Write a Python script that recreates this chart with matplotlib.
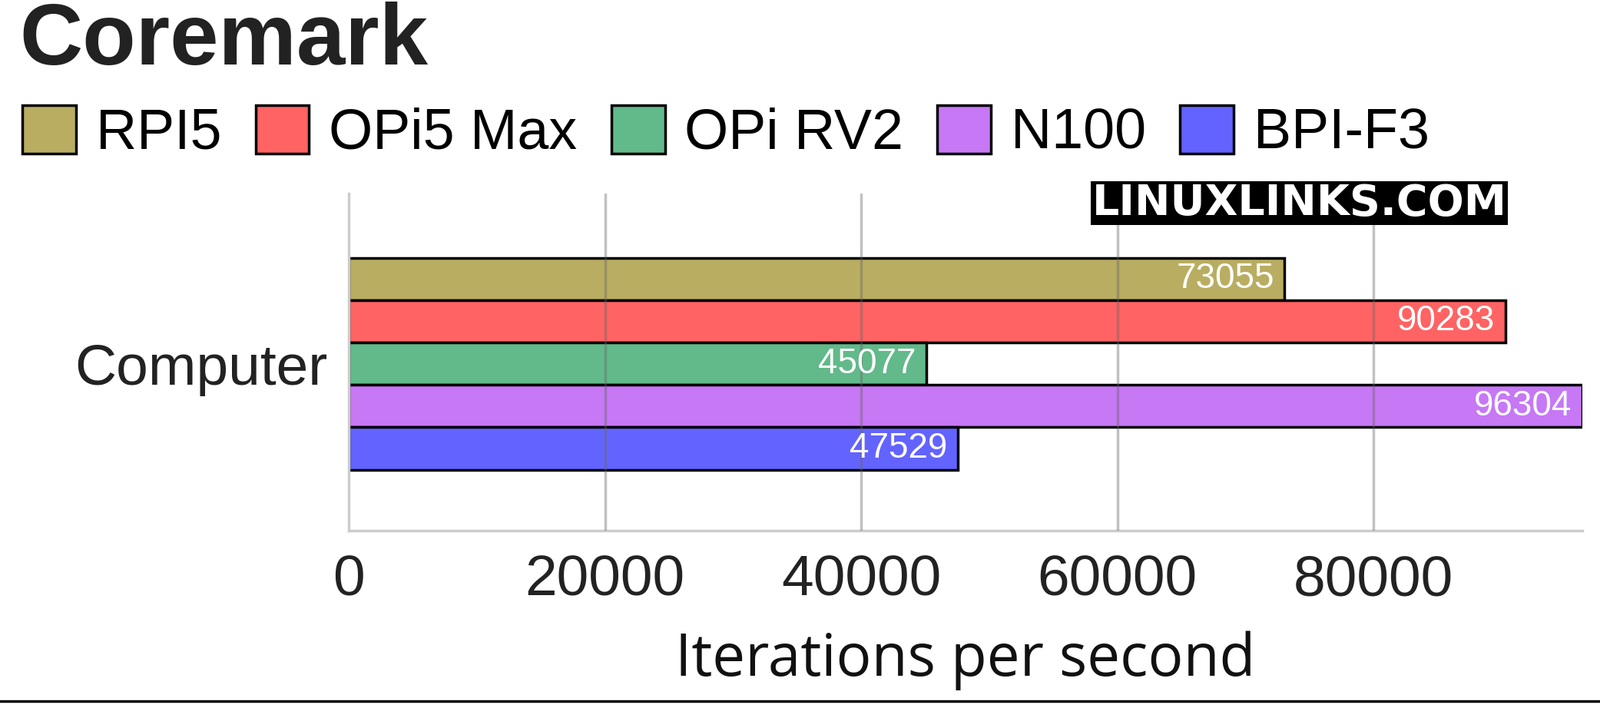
import matplotlib
matplotlib.use("Agg")
import matplotlib.pyplot as plt
from matplotlib.patches import Patch

names = ["RPI5", "OPi5 Max", "OPi RV2", "N100", "BPI-F3"]
values = [73055, 90283, 45077, 96304, 47529]
colors = ["#b9ad62", "#ff6363", "#62b98a", "#c678f5", "#6363ff"]
ticks = [0, 20000, 40000, 60000, 80000]

plt.rcParams["font.family"] = "Liberation Sans"
fig = plt.figure(figsize=(20.83, 9.35), dpi=100)
ax = fig.add_axes([0.218, 0.261, 0.771, 0.469])

for i, (v, c) in enumerate(zip(values, colors)):
    ax.barh(i, v, height=1.0, color=c, edgecolor="black", lw=2.5, zorder=2)
    ax.text(v - 800, i, str(v), ha="right", va="center", color="white", fontsize=33, zorder=4)

ax.set_xlim(0, 96304)
ax.set_ylim(5.94, -2.01)
ax.set_xticks(ticks)
ax.set_xticklabels([str(t) for t in ticks], fontsize=54, color="#222222")
ax.set_yticks([2])
ax.set_yticklabels(["Computer"], fontsize=54, color="#222222")
ax.tick_params(axis="x", length=0, pad=22)
ax.tick_params(axis="y", length=0, pad=20)
for t in ticks[1:]:
    ax.axvline(t, color="#666666", alpha=0.4, lw=2.5, zorder=3)
for s in ("top", "right"):
    ax.spines[s].set_visible(False)
for s in ("left", "bottom"):
    ax.spines[s].set_color("#cccccc")
    ax.spines[s].set_linewidth(2.5)
ax.set_xlabel("Iterations per second", fontsize=55, family="Open Sans", color="#111111", labelpad=22)

fig.text(0.012, 0.998, "Coremark", fontsize=82, fontweight="bold", color="#222222", va="top")
handles = [Patch(facecolor=c, edgecolor="black", lw=2.5) for c in colors]
fig.legend(handles, names, loc="center left", bbox_to_anchor=(0.014, 0.815), ncol=5,
           frameon=False, fontsize=53, handlelength=0.95, handleheight=0.95,
           handletextpad=0.35, columnspacing=0.6, borderpad=0, borderaxespad=0)
fig.text(0.812, 0.717, "LINUXLINKS.COM", fontsize=40, fontweight="bold", family="DejaVu Sans",
         color="white", ha="center", va="center",
         bbox=dict(facecolor="black", edgecolor="none", pad=1))
fig.add_artist(plt.Line2D([0, 1], [0.023, 0.023], color="black", lw=2.5))

fig.savefig("out.png", dpi=100)
